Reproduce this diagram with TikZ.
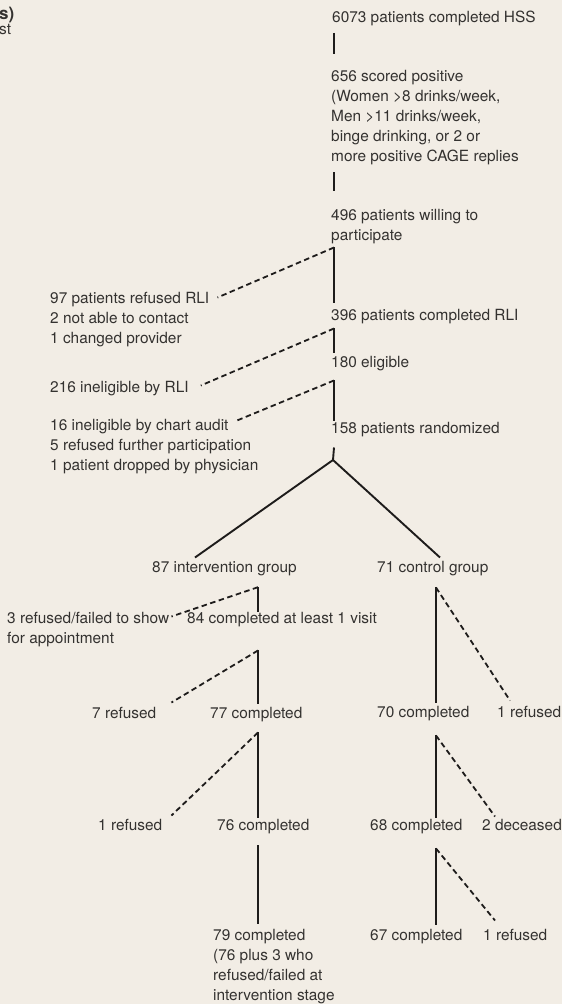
\documentclass[tikz,border=0pt]{standalone}
\usepackage{fontspec}
\setmainfont{TeX Gyre Heros}
\usetikzlibrary{calc}
\definecolor{paper}{RGB}{242,237,229}
\definecolor{ink}{RGB}{52,50,48}
\definecolor{rule}{RGB}{30,28,27}

\begin{document}
\begin{tikzpicture}[x=1pt, y=-1pt,
		lbl/.style={anchor=north west, inner sep=0pt, align=left, text=ink, font=\fontsize{15.4}{20}\selectfont},
		link/.style={draw=rule, line width=1.9pt},
		drop/.style={draw=rule, line width=1.8pt, dash pattern=on 5.5pt off 3.5pt}]
	\fill[paper] (0,0) rectangle (562,1004);
	\useasboundingbox (0,0) rectangle (562,1004);

	% cut caption at the page edge
	\node[lbl, anchor=base west, font=\fontsize{17}{20}\selectfont\bfseries] (capA) at (-1,19) {s)};
	\node[lbl, anchor=base west] (capB) at (-1,34) {st};

	% screening column
	\coordinate (mainx) at (334,0);
	\node[lbl] (hss) at (332,10.5) {6073 patients completed HSS};
	\node[lbl] (pos) at (331,70.5) {656 scored positive\\(Women >8 drinks/week,\\Men >11 drinks/week,\\binge drinking, or 2 or\\more positive CAGE replies};
	\node[lbl] (will) at (331,209.5) {496 patients willing to\\participate};
	\node[lbl] (rli) at (331,309.5) {396 patients completed RLI};
	\node[lbl] (elig) at (331,356.5) {180 eligible};
	\node[lbl] (rand) at (331,422.5) {158 patients randomized};

	\node[lbl] (refrli) at (50,292.5) {97 patients refused RLI\\2 not able to contact\\1 changed provider};
	\node[lbl] (inelig) at (50,381.5) {216 ineligible by RLI};
	\node[lbl] (audit) at (50,419.5) {16 ineligible by chart audit\\5 refused further participation\\1 patient dropped by physician};

	\draw[link] ($(hss.south -| mainx)+(0,7)$) -- ($(pos.north -| mainx)+(0,-17)$);
	\draw[link] ($(pos.south -| mainx)+(0,7)$) -- ($(will.north -| mainx)+(0,-19)$);
	\draw[link] ($(will.south -| mainx)+(0,3)$) coordinate (j1) -- ($(rli.north -| mainx)+(0,-7)$);
	\draw[drop] (j1) -- ([shift={(8,5)}]refrli.north east);
	\draw[link] ($(rli.south -| mainx)+(0,4)$) coordinate (j2) -- ($(elig.north -| mainx)+(0,-4)$);
	\draw[drop] (j2) -- ([shift={(12,4)}]inelig.north east);
	\draw[link] ($(elig.south -| mainx)+(0,9)$) coordinate (j3) -- ($(rand.north -| mainx)+(0,-2)$);
	\draw[drop] (j3) -- ([shift={(187,1)}]audit.north west);

	% randomisation
	\coordinate (split) at (333,460);
	\node[lbl] (interv) at (152,561.5) {87 intervention group};
	\node[lbl] (control) at (377,561.5) {71 control group};
	\draw[link] ($(rand.south -| mainx)+(0,10)$) -- (split);
	\draw[link] (split) -- ([shift={(43,-4)}]interv.north west);
	\draw[link] (split) -- ([shift={(63,-4)}]control.north west);

	% intervention arm
	\coordinate (intx) at (258,0);
	\node[lbl] (noshow) at (7,612.5) {3 refused/failed to show\\for appointment};
	\node[lbl] (visit) at (187,612.5) {84 completed at least 1 visit};
	\node[lbl] (refA) at (92,707.5) {7 refused};
	\node[lbl] (compA) at (210,707.5) {77 completed};
	\node[lbl] (refB) at (98,819.5) {1 refused};
	\node[lbl] (compB) at (217,819.5) {76 completed};
	\node[lbl] (final) at (213,929.5) {79 completed\\(76 plus 3 who\\refused/failed at\\intervention stage};

	\draw[link] ($(interv.south -| intx)+(0,11)$) coordinate (j4) -- ($(visit.north -| intx)+(0,-1)$);
	\draw[drop] (j4) -- ([shift={(2,4)}]noshow.north east);
	\draw[link] ($(visit.south -| intx)+(0,23)$) coordinate (j5) -- ($(compA.north -| intx)+(0,-4)$);
	\draw[drop] (j5) -- ([shift={(15,-5)}]refA.north east);
	\draw[link] ($(compA.south -| intx)+(0,10)$) coordinate (j6) -- ($(compB.north -| intx)+(0,-2)$);
	\draw[drop] (j6) -- ([shift={(9,-4)}]refB.north east);
	\draw[link] ($(compB.south -| intx)+(0,11)$) -- ($(final.north -| intx)+(0,-6)$);

	% control arm
	\coordinate (conx) at (436,0);
	\node[lbl] (compC) at (377,706.5) {70 completed};
	\node[lbl] (refC) at (497,706.5) {1 refused};
	\node[lbl] (compD) at (370,819.5) {68 completed};
	\node[lbl] (dec) at (482,819.5) {2 deceased};
	\node[lbl] (compE) at (370,929.5) {67 completed};
	\node[lbl] (refE) at (483,929.5) {1 refused};

	\draw[link] ($(control.south -| conx)+(0,11)$) coordinate (j7) -- ($(compC.north -| conx)+(0,-4)$);
	\draw[drop] (j7) -- ([shift={(13,-6)}]refC.north west);
	\draw[link] ($(compC.south -| conx)+(0,14)$) coordinate (j8) -- ($(compD.north -| conx)+(0,-2)$);
	\draw[drop] (j8) -- ([shift={(13,-3)}]dec.north west);
	\draw[link] ($(compD.south -| conx)+(0,14)$) coordinate (j9) -- ($(compE.north -| conx)+(0,-5)$);
	\draw[drop] (j9) -- ([shift={(12,-9)}]refE.north west);
\end{tikzpicture}
\end{document}
